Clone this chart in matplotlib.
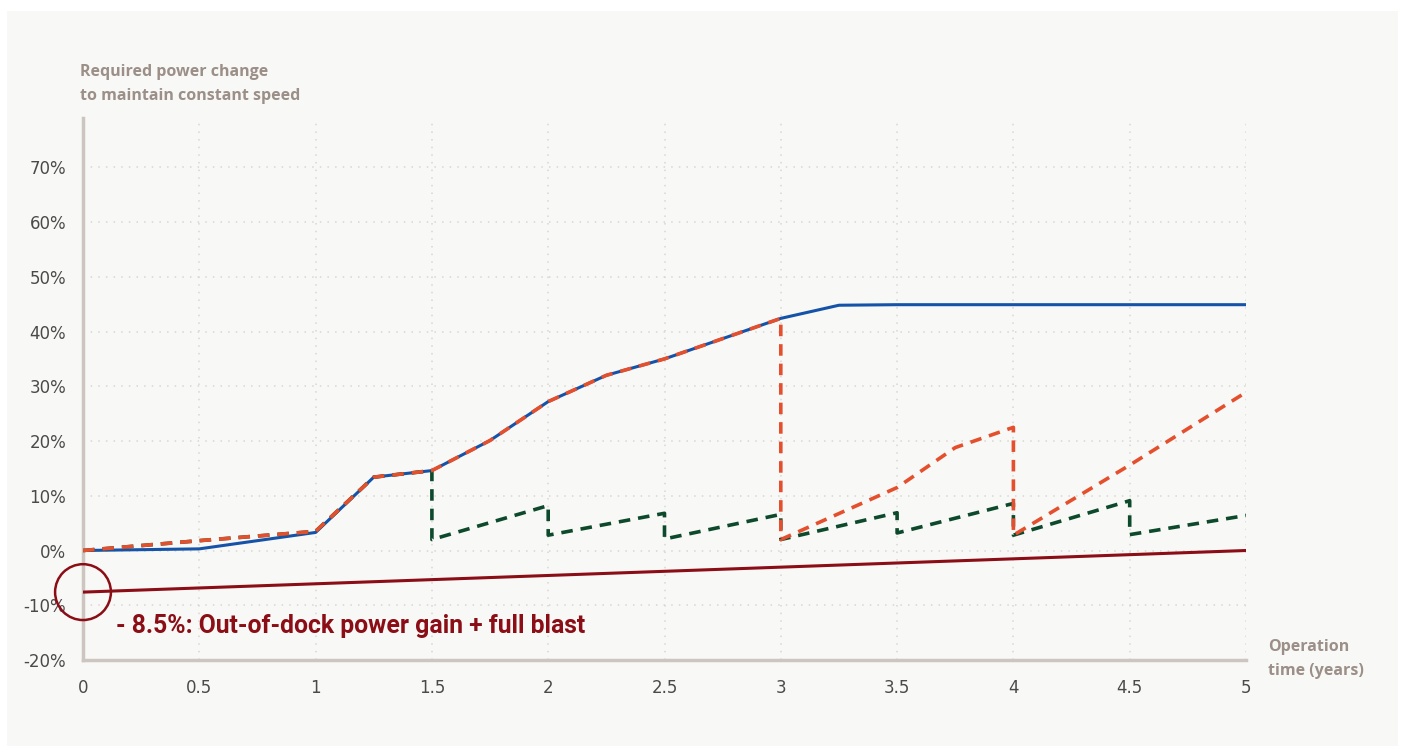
import matplotlib.pyplot as plt
from matplotlib.patches import Ellipse, Rectangle

# Data (x = operation time in years, y = % power change)
clean_x = [0, 0.5, 1, 1.25, 1.5, 1.75, 2, 2.25, 2.5, 2.75, 3, 3.25, 3.5, 4, 4.5, 5]
clean_y = [0, 0.3, 3.3, 13.4, 14.6, 20.1, 27.2, 32.0, 35.0, 38.7, 42.4, 44.8, 44.9, 44.9, 44.9, 44.9]

orange_x = [0, 0.5, 1, 1.25, 1.5, 1.75, 2, 2.25, 2.5, 2.75, 3, 3, 3.5, 3.75, 4, 4, 4.5, 5]
orange_y = [0, 1.8, 3.5, 13.4, 14.6, 20.1, 27.2, 32.0, 35.0, 38.7, 42.4, 2.0, 11.5, 18.8, 22.5, 2.8, 15.6, 28.9]

green_x = [0, 0.5, 1, 1.25, 1.5, 1.5, 2, 2, 2.5, 2.5, 3, 3, 3.5, 3.5, 4, 4, 4.5, 4.5, 5]
green_y = [0, 1.8, 3.5, 13.4, 14.6, 2.0, 8.2, 2.8, 6.8, 2.1, 6.6, 2.0, 6.9, 3.2, 8.6, 2.8, 9.1, 2.9, 6.4]

blast_x = [0, 5]
blast_y = [-7.6, 0]

x_ticks = [0, 0.5, 1, 1.5, 2, 2.5, 3, 3.5, 4, 4.5, 5]
x_labels = ['0', '0.5', '1', '1.5', '2', '2.5', '3', '3.5', '4', '4.5', '5']
y_ticks = [-20, -10, 0, 10, 20, 30, 40, 50, 60, 70]
y_labels = ['-20%', '-10%', '0%', '10%', '20%', '30%', '40%', '50%', '60%', '70%']

bg = '#f8f8f6'
label_col = '#9b8f88'
dark_red = '#8b0d16'

fig = plt.figure(figsize=(14.02, 7.47), dpi=100, facecolor='white')
fig.patches.append(Rectangle((7 / 1402, 1 - 746 / 747), 1391 / 1402, 735 / 747,
                             transform=fig.transFigure, facecolor=bg, edgecolor='none', zorder=-1))

ax = fig.add_axes([83 / 1402, 1 - 660 / 747, (1246 - 83) / 1402, (660 - 118) / 747])
ax.set_facecolor(bg)

ax.plot(clean_x, clean_y, color='#1553a8', lw=2.2, zorder=3)
ax.plot(green_x, green_y, color='#0d4a2c', lw=2.6, dashes=(3.2, 2.2), zorder=4)
ax.plot(orange_x, orange_y, color='#e4502d', lw=2.6, dashes=(3.2, 2.2), zorder=5)
ax.plot(blast_x, blast_y, color=dark_red, lw=2.2, zorder=3)

ax.set_xlim(0, 5)
ax.set_ylim(-20, 79)
ax.set_xticks(x_ticks)
ax.set_xticklabels(x_labels)
ax.set_yticks(y_ticks)
ax.set_yticklabels(y_labels)
ax.tick_params(length=0, labelsize=12, labelcolor='#4a4a4a', pad=14)
ax.tick_params(axis='y', pad=12)

ax.grid(True, color='#d9d7d3', linestyle=(0, (1, 4)), lw=1.1)
ax.set_axisbelow(True)
for s in ['top', 'right']:
    ax.spines[s].set_visible(False)
for s in ['left', 'bottom']:
    ax.spines[s].set_color('#cdc5bf')
    ax.spines[s].set_linewidth(2.5)

# circle around the starting point of the blast line
circ = Ellipse((blast_x[0], blast_y[0]), width=0.24, height=10.2, fill=False,
               edgecolor=dark_red, lw=1.8, clip_on=False, zorder=6)
ax.add_patch(circ)
ax.text(0.14, -13.8, '- 8.5%: Out-of-dock power gain + full blast', color=dark_red,
        fontsize=17.8, fontweight='bold', family='Roboto', va='center', ha='left')

fig.text(80 / 1402, 1 - 84 / 747, 'Required power change\nto maintain constant speed',
         color=label_col, fontsize=11.5, fontweight='bold', family='Open Sans',
         va='center', ha='left', linespacing=1.6)
fig.text(1268 / 1402, 1 - 659 / 747, 'Operation\ntime (years)',
         color=label_col, fontsize=11.5, fontweight='bold', family='Open Sans',
         va='center', ha='left', linespacing=1.6)

plt.savefig('out.png', dpi=100, facecolor='white')
